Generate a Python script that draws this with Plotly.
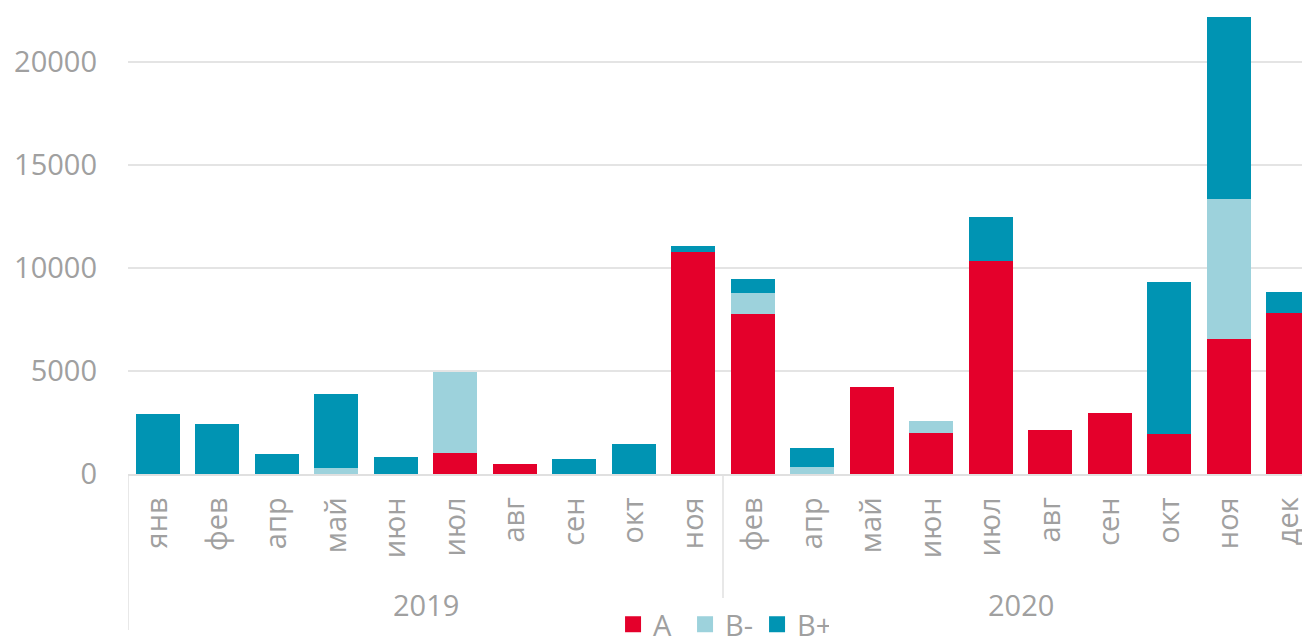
import plotly.graph_objects as go

years = ["2019"] * 10 + ["2020"] * 10
months = ["янв", "фев", "апр", "май", "июн", "июл", "авг", "сен", "окт", "ноя",
          "фев", "апр", "май", "июн", "июл", "авг", "сен", "окт", "ноя", "дек"]

a_vals = [0, 0, 0, 0, 0, 1030, 470, 0, 0, 10780,
          7770, 0, 4200, 2000, 10340, 2140, 2950, 1940, 6550, 7800]
bminus_vals = [0, 0, 0, 300, 0, 3900, 0, 0, 0, 0,
               1000, 350, 0, 570, 0, 0, 0, 0, 6780, 0]
bplus_vals = [2900, 2450, 980, 3600, 840, 0, 0, 710, 1450, 290,
              680, 900, 0, 0, 2150, 0, 0, 7360, 8840, 1020]

series_names = ["A", "B-", "B+"]
RED = "#E4002B"
LIGHT = "#9DD2DC"
TEAL = "#0094B3"
colors = [RED, LIGHT, TEAL]
GRAY = "#A0A0A0"
LINE = "#E0E0E0"
FONT = "Open Sans"

# unique category keys (year + month); ticks show only the month
cats = [f"{y} {m}" for y, m in zip(years, months)]

fig = go.Figure()
for name, vals, col in zip(series_names, [a_vals, bminus_vals, bplus_vals], colors):
    fig.add_trace(go.Bar(x=cats, y=vals, name=name, showlegend=False,
                         marker=dict(color=col, line=dict(width=0))))
# legend entries with larger square swatches
for name, col in zip(series_names, colors):
    fig.add_trace(go.Scatter(x=[None], y=[None], mode="markers", name=name,
                             marker=dict(symbol="square", size=21, color=col)))

# year group labels and dividers
unique_years = list(dict.fromkeys(years))
for yr in unique_years:
    idx = [i for i, v in enumerate(years) if v == yr]
    center = (idx[0] + idx[-1]) / 2
    fig.add_annotation(x=center, xref="x", y=-0.281, yref="paper", text=yr,
                       showarrow=False, yanchor="middle",
                       font=dict(family=FONT, size=29, color=GRAY))
    start = idx[0] - 0.5
    fig.add_shape(type="line", xref="x", yref="paper", x0=start, x1=start,
                  y0=0, y1=-0.335 if idx[0] == 0 else -0.266,
                  line=dict(color=LINE, width=1.5))

fig.update_layout(
    width=1310, height=638,
    barmode="stack", bargap=0.26,
    margin=dict(l=120, r=0, t=0, b=172, autoexpand=False),
    paper_bgcolor="white", plot_bgcolor="white",
    font=dict(family=FONT, size=29, color=GRAY),
    showlegend=True,
    legend=dict(orientation="h", x=0.4076, xanchor="left", y=-0.268, yanchor="top",
                font=dict(size=29, color=GRAY), traceorder="normal",
                itemwidth=30, entrywidth=27, entrywidthmode="pixels",
                tracegroupgap=0, bgcolor="rgba(0,0,0,0)"),
    hovermode=False,
)
fig.update_yaxes(range=[0, 22621], tickvals=[0, 5000, 10000, 15000, 20000],
                 tickformat="d", automargin=False,
                 showgrid=True, gridcolor="#E4E4E4", gridwidth=1.5,
                 zeroline=False, showline=False, ticks="", ticklabelstandoff=30,
                 tickfont=dict(family=FONT, size=29, color=GRAY))
fig.update_xaxes(type="category", range=[-0.5, 19.5], automargin=False,
                 tickvals=cats, ticktext=months,
                 showline=True, linecolor=LINE, linewidth=1.5, showgrid=False,
                 tickangle=-90, ticklabelstandoff=10,
                 tickfont=dict(family=FONT, size=29, color=GRAY), ticks="")

fig.write_html("out.html")
